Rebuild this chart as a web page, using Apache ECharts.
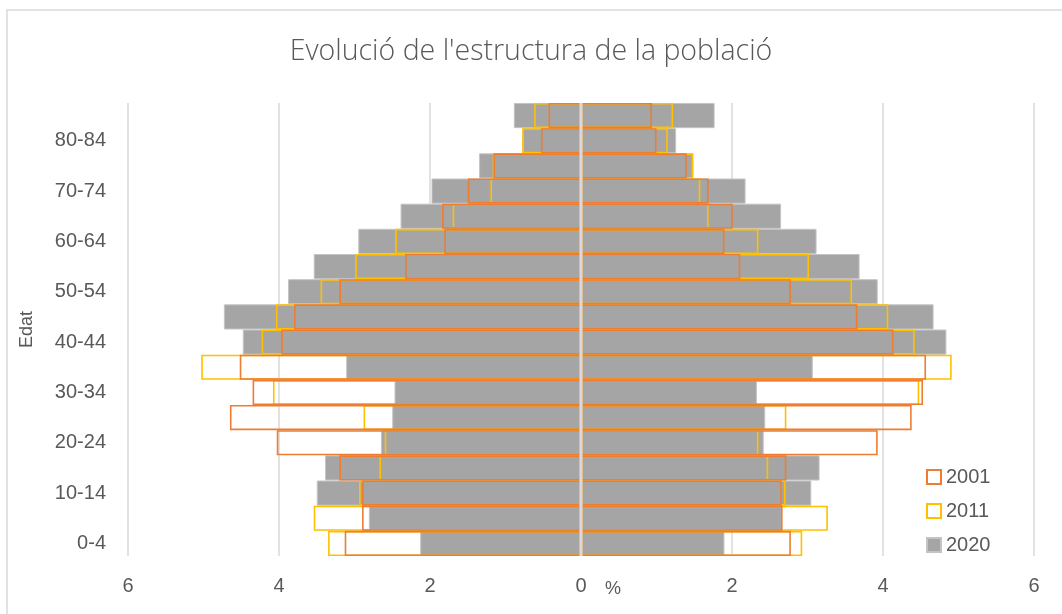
<!DOCTYPE html>
<html>
<head>
<meta charset="utf-8">
<title>Evolució de l'estructura de la població</title>
<script src="https://cdn.jsdelivr.net/npm/echarts@6/dist/echarts.min.js"></script>
<style>
  html, body { margin: 0; padding: 0; background: #ffffff; }
  #chart { width: 1062px; height: 614px; }
</style>
</head>
<body>
<div id="chart"></div>
<script>
// Age groups, bottom to top
const ageGroups = ['0-4', '5-9', '10-14', '15-19', '20-24', '25-29', '30-34', '35-39', '40-44',
  '45-49', '50-54', '55-59', '60-64', '65-69', '70-74', '75-79', '80-84', '85+'];

// Share of population (%) per age group, left half of the pyramid
const left2001 = [3.13, 2.90, 2.90, 3.20, 4.03, 4.65, 4.35, 4.52, 3.97, 3.80, 3.20, 2.33, 1.81, 1.84, 1.50, 1.16, 0.53, 0.43];
const left2011 = [3.35, 3.54, 2.94, 2.67, 2.60, 2.88, 4.08, 5.03, 4.23, 4.04, 3.45, 2.99, 2.46, 1.70, 1.20, 1.17, 0.78, 0.62];
const left2020 = [2.13, 2.81, 3.50, 3.39, 2.65, 2.50, 2.47, 3.11, 4.48, 4.73, 3.88, 3.54, 2.95, 2.39, 1.98, 1.35, 0.77, 0.89];

// Share of population (%) per age group, right half of the pyramid
const right2001 = [2.78, 2.67, 2.66, 2.72, 3.93, 4.38, 4.53, 4.57, 4.14, 3.66, 2.78, 2.11, 1.90, 2.01, 1.69, 1.40, 1.00, 0.94];
const right2011 = [2.93, 3.27, 2.71, 2.48, 2.35, 2.72, 4.48, 4.91, 4.42, 4.07, 3.59, 3.02, 2.35, 1.69, 1.58, 1.49, 1.15, 1.22];
const right2020 = [1.90, 2.66, 3.05, 3.16, 2.42, 2.44, 2.33, 3.07, 4.84, 4.67, 3.93, 3.69, 3.12, 2.65, 2.18, 1.48, 1.26, 1.77];

const years = ['2001', '2011', '2020'];
const xTicks = { min: -6, max: 6, step: 2 };

const textColor = '#595959';
const font = 'Liberation Sans';
const neg = arr => arr.map(v => -v);

function outlineSeries(name, data, color, z) {
  return {
    name: name,
    type: 'bar',
    data: data,
    z: z,
    barGap: '-100%',
    barCategoryGap: '0%',
    silent: true,
    itemStyle: { color: 'rgba(255,255,255,0)', borderColor: color, borderWidth: 1.6 }
  };
}

function filledSeries(name, data) {
  return {
    name: name,
    type: 'bar',
    data: data,
    z: 2,
    barGap: '-100%',
    barCategoryGap: '0%',
    silent: true,
    itemStyle: { color: '#a5a5a5', borderColor: '#c4c4c4', borderWidth: 1 }
  };
}

const chart = echarts.init(document.getElementById('chart'), null, { renderer: 'canvas' });

chart.setOption({
  animation: false,
  backgroundColor: '#ffffff',
  title: {
    text: "Evolució de l'estructura de la població",
    left: 'center',
    top: 32,
    textStyle: { color: textColor, fontFamily: 'Open Sans', fontWeight: 300, fontSize: 28.5 }
  },
  graphic: [{
    type: 'rect',
    shape: { x: 7, y: 10, width: 1060, height: 620 },
    style: { fill: 'none', stroke: '#d9d9d9', lineWidth: 1.5 },
    silent: true,
    z: -1
  }],
  legend: {
    data: years,
    orient: 'vertical',
    left: 921,
    top: 462,
    itemWidth: 14,
    itemHeight: 14,
    itemGap: 14,
    icon: 'rect',
    textStyle: { color: textColor, fontFamily: font, fontSize: 20 }
  },
  grid: { left: 128, right: 28, top: 103, bottom: 58, outerBoundsMode: 'none' },
  xAxis: {
    type: 'value',
    min: xTicks.min,
    max: xTicks.max,
    interval: xTicks.step,
    name: '%',
    nameLocation: 'middle',
    nameGap: 24,
    nameMoveOverlap: false,
    nameTextStyle: { color: textColor, fontFamily: font, fontSize: 18, padding: [0, 0, 0, 64] },
    axisLine: { show: false },
    axisTick: { show: false },
    splitLine: { lineStyle: { color: '#d9d9d9', width: 1.5 } },
    axisLabel: {
      color: textColor, fontFamily: font, fontSize: 20, margin: 20,
      formatter: v => String(Math.abs(v))
    }
  },
  yAxis: {
    type: 'category',
    data: ageGroups,
    name: 'Edat',
    nameLocation: 'middle',
    nameGap: 92,
    nameRotate: 90,
    nameMoveOverlap: false,
    nameTextStyle: { color: textColor, fontFamily: font, fontSize: 18 },
    axisLine: { show: false },
    axisTick: { show: false },
    axisLabel: { interval: 1, color: textColor, fontFamily: font, fontSize: 20, margin: 22 }
  },
  series: [
    filledSeries('2020', neg(left2020)),
    filledSeries('2020', right2020),
    outlineSeries('2011', neg(left2011), '#ffc000', 3),
    outlineSeries('2011', right2011, '#ffc000', 3),
    outlineSeries('2001', neg(left2001), '#ed7d31', 4),
    outlineSeries('2001', right2001, '#ed7d31', 4),
    // vertical axis line at 0, drawn above the bars
    {
      name: 'eix',
      type: 'custom',
      z: 20,
      silent: true,
      clip: false,
      data: [[0, 0]],
      renderItem: function (params, api) {
        const cs = params.coordSys;
        const x = api.coord([0, 0])[0];
        return {
          type: 'line',
          z2: 100,
          shape: { x1: x, y1: cs.y, x2: x, y2: cs.y + cs.height },
          style: { stroke: '#d9d9d9', lineWidth: 3.2 }
        };
      }
    }
  ]
});
</script>
</body>
</html>
